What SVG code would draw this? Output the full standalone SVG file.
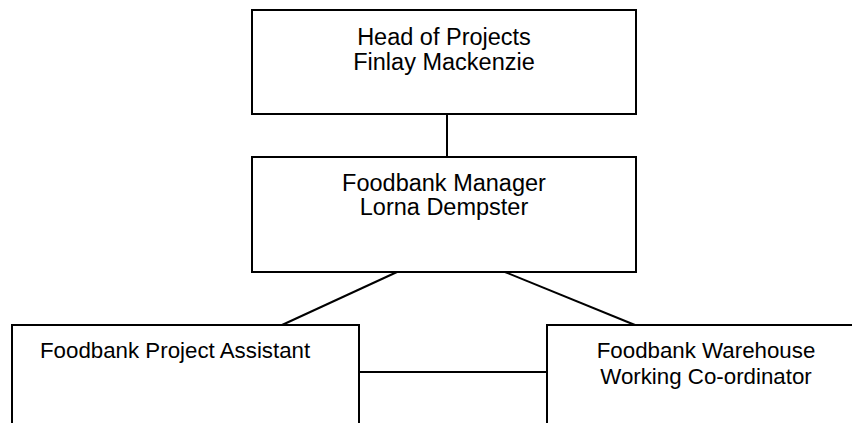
<svg xmlns="http://www.w3.org/2000/svg" width="852" height="423" viewBox="0 0 852 423">
<style>
.box{fill:#fff;stroke:#000;stroke-width:2}
.t{font-family:"Liberation Sans",Arial,sans-serif;fill:#000}
.c{stroke:#000;stroke-width:2;fill:none}
</style>
<rect width="852" height="423" fill="#fff"/>
<g id="connectors">
<line class="c" x1="447" y1="114" x2="447" y2="157"/>
<line class="c" x1="397" y1="272" x2="282" y2="325"/>
<line class="c" x1="505" y1="272" x2="635" y2="325"/>
<line class="c" x1="359" y1="372" x2="547" y2="372"/>
</g>
<g id="head">
<rect class="box" x="252" y="10" width="384" height="104"/>
<text class="t" font-size="23.5" text-anchor="middle" x="444" y="45">Head of Projects</text>
<text class="t" font-size="23.5" text-anchor="middle" x="444" y="70">Finlay Mackenzie</text>
</g>
<g id="manager">
<rect class="box" x="252" y="157" width="384" height="115"/>
<text class="t" font-size="23.5" text-anchor="middle" x="444" y="191">Foodbank Manager</text>
<text class="t" font-size="23.5" text-anchor="middle" x="444" y="215">Lorna Dempster</text>
</g>
<g id="assistant">
<rect class="box" x="12" y="325" width="347" height="120"/>
<text class="t" font-size="22.3" x="40" y="358">Foodbank Project Assistant</text>
</g>
<g id="warehouse">
<rect class="box" x="547" y="325" width="320" height="120"/>
<text class="t" font-size="22.3" text-anchor="middle" x="706" y="358">Foodbank Warehouse</text>
<text class="t" font-size="22.3" text-anchor="middle" x="706" y="384">Working Co-ordinator</text>
</g>
</svg>
